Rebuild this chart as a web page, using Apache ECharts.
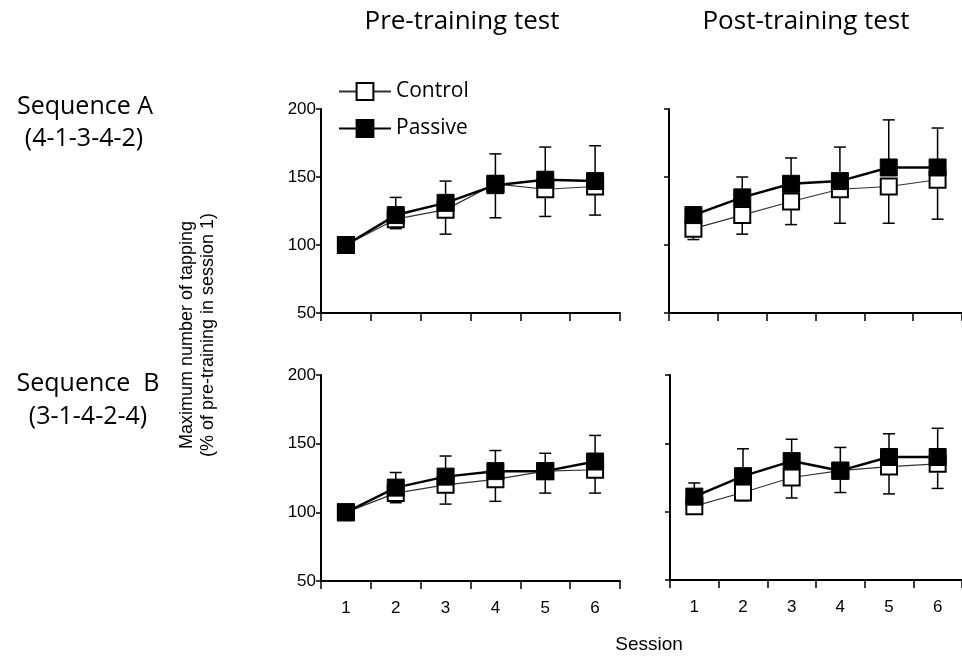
<!DOCTYPE html>
<html>
<head>
<meta charset="utf-8">
<script src="https://cdn.jsdelivr.net/npm/echarts@6/dist/echarts.min.js"></script>
<style>html,body{margin:0;padding:0;background:#fff;}#c{width:962px;height:658px;}</style>
</head>
<body>
<div id="c"></div>
<script>
const sessions = ['1', '2', '3', '4', '5', '6'];
const yTicks = [50, 100, 150, 200];

// Sequence A, pre-training test
const preA_control = [100, 119, 126, 145, 141, 143];
const preA_passive = [100, 122, 131, 144, 148, 147];
const preA_passiveUpper = [100, 135, 147, 167, 172, 173];
const preA_controlLower = [100, 112, 108, 120, 121, 122];
// Sequence A, post-training test
const postA_control = [112, 122, 132, 141, 143, 148];
const postA_passive = [122, 135, 145, 147, 157, 157];
const postA_passiveUpper = [126, 150, 164, 172, 192, 186];
const postA_controlLower = [104, 108, 115, 116, 116, 119];
// Sequence B, pre-training test
const preB_control = [100, 114, 120, 124, 130, 131];
const preB_passive = [100, 118, 126, 130, 130, 137];
const preB_passiveUpper = [100, 129, 141, 145, 143, 156];
const preB_controlLower = [100, 107, 106, 108, 114, 114];
// Sequence B, post-training test
const postB_control = [104, 114, 125, 130, 133, 135];
const postB_passive = [111, 126, 137, 130, 140, 140];
const postB_passiveUpper = [121, 146, 153, 147, 157, 161];
const postB_controlLower = [100, 108, 110, 114, 113, 117];

const panels = [
  {control: preA_control, passive: preA_passive, up: preA_passiveUpper, lo: preA_controlLower},
  {control: postA_control, passive: postA_passive, up: postA_passiveUpper, lo: postA_controlLower},
  {control: preB_control, passive: preB_passive, up: preB_passiveUpper, lo: preB_controlLower},
  {control: postB_control, passive: postB_passive, up: postB_passiveUpper, lo: postB_controlLower}
];

const grids = [
  {left: 321, top: 109, width: 299, height: 204},
  {left: 669, top: 109, width: 298, height: 204},
  {left: 321, top: 375, width: 299, height: 206},
  {left: 670, top: 375, width: 298, height: 205}
];

const labelFont = 'Liberation Sans, Arial, sans-serif';
const xAxes = grids.map((g, i) => ({
  type: 'category', gridIndex: i, data: sessions, boundaryGap: true,
  axisLine: {lineStyle: {color: '#000', width: 2}},
  axisTick: {show: true, length: 8, lineStyle: {color: '#000', width: 1.5}},
  axisLabel: {show: i >= 2, color: '#000', fontSize: 17, fontFamily: labelFont, margin: 19},
  splitLine: {show: false}
}));
const yAxes = grids.map((g, i) => ({
  type: 'value', gridIndex: i, min: yTicks[0], max: yTicks[yTicks.length - 1], interval: 50,
  axisLine: {show: true, lineStyle: {color: '#000', width: 2}},
  axisTick: {show: true, length: 5, lineStyle: {color: '#000', width: 1.5}},
  axisLabel: {show: i % 2 === 0, color: '#000', fontSize: 17, fontFamily: labelFont, margin: 5},
  splitLine: {show: false}
}));

function errSeries(i, mean, end) {
  return {
    type: 'custom', xAxisIndex: i, yAxisIndex: i, z: 1, silent: true,
    data: sessions.map((s, k) => [k, mean[k], end[k]]),
    encode: {x: 0, y: [1, 2]},
    renderItem: function (params, api) {
      const x = api.value(0);
      const a = api.coord([x, api.value(1)]);
      const b = api.coord([x, api.value(2)]);
      const w = 6;
      const st = {stroke: '#000', lineWidth: 1.5};
      return {type: 'group', children: [
        {type: 'line', shape: {x1: a[0], y1: a[1], x2: b[0], y2: b[1]}, style: st},
        {type: 'line', shape: {x1: b[0] - w, y1: b[1], x2: b[0] + w, y2: b[1]}, style: st}
      ]};
    }
  };
}

const series = [];
panels.forEach((p, i) => {
  series.push(errSeries(i, p.control, p.lo));
  series.push(errSeries(i, p.passive, p.up));
  series.push({
    name: 'Control', type: 'line', xAxisIndex: i, yAxisIndex: i, z: 3,
    data: p.control, symbol: 'rect', symbolSize: 16,
    lineStyle: {color: '#333', width: 1.2},
    itemStyle: {color: '#fff', borderColor: '#000', borderWidth: 2},
    emphasis: {disabled: true}, animation: false
  });
  series.push({
    name: 'Passive', type: 'line', xAxisIndex: i, yAxisIndex: i, z: 4,
    data: p.passive, symbol: 'rect', symbolSize: 17,
    lineStyle: {color: '#000', width: 2.5},
    itemStyle: {color: '#000', borderColor: '#000', borderWidth: 1},
    emphasis: {disabled: true}, animation: false
  });
});

const bigFont = 'Open Sans, Noto Sans, sans-serif';
const graphic = [
  {type: 'text', x: 462, y: 22, style: {text: 'Pre-training test', font: '26px ' + bigFont, fill: '#000', align: 'center', verticalAlign: 'middle'}},
  {type: 'text', x: 806, y: 22, style: {text: 'Post-training test', font: '26px ' + bigFont, fill: '#000', align: 'center', verticalAlign: 'middle'}},
  {type: 'text', x: 85, y: 107, style: {text: 'Sequence A', font: '25px ' + bigFont, fill: '#000', align: 'center', verticalAlign: 'middle'}},
  {type: 'text', x: 84, y: 139, style: {text: '(4-1-3-4-2)', font: '25px ' + bigFont, fill: '#000', align: 'center', verticalAlign: 'middle'}},
  {type: 'text', x: 88, y: 384, style: {text: 'Sequence  B', font: '25px ' + bigFont, fill: '#000', align: 'center', verticalAlign: 'middle'}},
  {type: 'text', x: 88, y: 417, style: {text: '(3-1-4-2-4)', font: '25px ' + bigFont, fill: '#000', align: 'center', verticalAlign: 'middle'}},
  {type: 'text', x: 198, y: 335, rotation: Math.PI / 2,
   style: {text: 'Maximum number of tapping\n(% of pre-training in session 1)', font: '18px ' + labelFont, lineHeight: 21, fill: '#000', align: 'center', verticalAlign: 'middle'}},
  {type: 'text', x: 649, y: 645, style: {text: 'Session', font: '19px ' + labelFont, fill: '#000', align: 'center', verticalAlign: 'middle'}}
];

const chart = echarts.init(document.getElementById('c'), null, {renderer: 'canvas'});
chart.setOption({
  backgroundColor: '#fff',
  animation: false,
  grid: grids,
  xAxis: xAxes,
  yAxis: yAxes,
  legend: {
    data: ['Control', 'Passive'], orient: 'vertical', left: 333, top: 76,
    itemWidth: 52, itemHeight: 21, itemGap: 16,
    textStyle: {fontSize: 21, fontFamily: bigFont, color: '#000'},
    selectedMode: false
  },
  graphic: graphic,
  series: series
});
</script>
</body>
</html>
